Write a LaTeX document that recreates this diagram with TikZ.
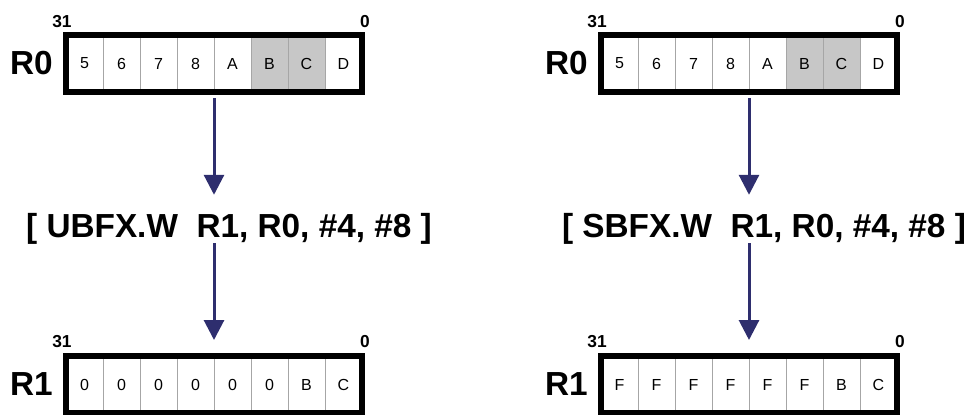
\documentclass[tikz,border=0pt]{standalone}
\usepackage{fontspec}
\setmainfont{Liberation Sans}
\usetikzlibrary{positioning,arrows.meta}
\definecolor{flowblue}{RGB}{46,46,110}

\begin{document}
\begin{tikzpicture}[
  x=0.75pt, y=-0.75pt,
  cell/.style={rectangle, draw=gray!70, line width=0.75pt, minimum width=27.75pt, minimum height=42.75pt, inner sep=0pt, font=\fontsize{12}{14}\selectfont},
  reg/.style={rectangle, draw, line width=4.5pt, minimum width=222pt, minimum height=42.75pt, inner sep=0pt, outer sep=0pt},
  regname/.style={inner sep=0pt, font=\fontsize{25}{30}\selectfont\bfseries},
  bitno/.style={inner sep=0pt, font=\fontsize{13}{15}\selectfont\bfseries},
  instr/.style={inner sep=0pt, text height=17pt, text depth=3.75pt, font=\fontsize{25}{30}\selectfont\bfseries},
  arrow/.style={-{Triangle[length=15pt, width=15pt]}, line width=2.25pt, draw=flowblue}
]
\useasboundingbox (0,0) rectangle (973,414);

% UBFX side
\foreach \v/\f [count=\i] in {5/white,6/white,7/white,8/white,A/white,B/black!22,C/black!22,D/white}
  \node [cell, fill=\f] (ua-\i) at (214-148+37*\i-18.5,63.5) {\v};
\node [reg] (ua) at (214,63.5) {};
\foreach \v [count=\i] in {0,0,0,0,0,0,B,C}
  \node [cell, fill=white] (ub-\i) at (214-148+37*\i-18.5,384.5) {\v};
\node [reg] (ub) at (214,384.5) {};

% SBFX side
\foreach \v/\f [count=\i] in {5/white,6/white,7/white,8/white,A/white,B/black!22,C/black!22,D/white}
  \node [cell, fill=\f] (sa-\i) at (749-148+37*\i-18.5,63.5) {\v};
\node [reg] (sa) at (749,63.5) {};
\foreach \v [count=\i] in {F,F,F,F,F,F,B,C}
  \node [cell, fill=white] (sb-\i) at (749-148+37*\i-18.5,384.5) {\v};
\node [reg] (sb) at (749,384.5) {};

% register names and bit numbers
\node [regname, left=9.75pt of ua.west] (ua-name) {R0};
\node [regname, left=9.75pt of ub.west] (ub-name) {R1};
\node [regname, left=9.75pt of sa.west] (sa-name) {R0};
\node [regname, left=9.75pt of sb.west] (sb-name) {R1};
\node [bitno, above=5.25pt of ua.north west, xshift=-3pt] (ua-msb) {31};
\node [bitno, above=5.25pt of ua.north east, xshift=2.25pt] (ua-lsb) {0};
\node [bitno, above=6pt of ub.north west, xshift=-3pt] (ub-msb) {31};
\node [bitno, above=6pt of ub.north east, xshift=2.25pt] (ub-lsb) {0};
\node [bitno, above=5.25pt of sa.north west, xshift=-3pt] (sa-msb) {31};
\node [bitno, above=5.25pt of sa.north east, xshift=2.25pt] (sa-lsb) {0};
\node [bitno, above=6pt of sb.north west, xshift=-3pt] (sb-msb) {31};
\node [bitno, above=6pt of sb.north east, xshift=2.25pt] (sb-lsb) {0};

% instructions
\node [instr] (ubfx) at (229,229.15) {[ UBFX.W\ \ R1, R0, \#4, \#8 ]};
\node [instr] (sbfx) at (764,229.15) {[ SBFX.W\ \ R1, R0, \#4, \#8 ]};

\draw [arrow, shorten <=4.5pt, shorten >=15.2pt] (ua.south) -- (ua.south |- ubfx.north);
\draw [arrow, shorten >=12pt] (ua.south |- ubfx.south) -- (ub.north);
\draw [arrow, shorten <=4.5pt, shorten >=15.2pt] (sa.south) -- (sa.south |- sbfx.north);
\draw [arrow, shorten >=12pt] (sa.south |- sbfx.south) -- (sb.north);
\end{tikzpicture}
\end{document}
